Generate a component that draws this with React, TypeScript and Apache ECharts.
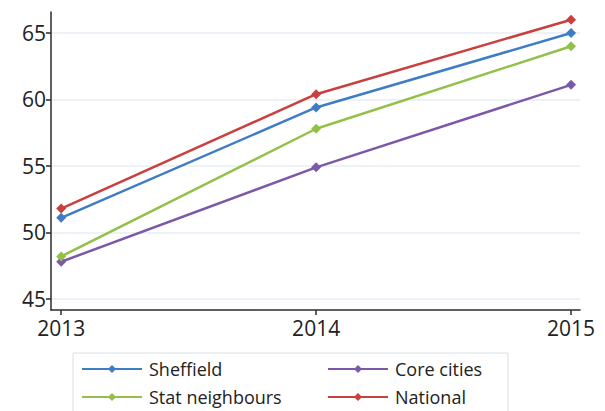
import React, { useEffect, useRef } from "react";
import * as echarts from "echarts";

const years = [2013, 2014, 2015];
const sheffield = [51.1, 59.4, 65.0];
const coreCities = [47.8, 54.9, 61.1];
const statNeighbours = [48.2, 57.8, 64.0];
const national = [51.8, 60.4, 66.0];
const yTicks = [45, 50, 55, 60, 65];

const FONT = "'Open Sans', 'Noto Sans', sans-serif";

export default function App() {
  const ref = useRef<HTMLDivElement>(null);
  useEffect(() => {
    if (!ref.current) return;
    const chart = echarts.init(ref.current, null, { renderer: "svg" });
    const mk = (name: string, vals: number[], color: string) => ({
      name,
      type: "line",
      data: years.map((y, i) => [y, vals[i]]),
      symbol: "diamond",
      symbolSize: 10,
      lineStyle: { color, width: 2.5 },
      itemStyle: { color },
      z: 3,
    });
    const lg = (name: string, left: number, top: number) => ({
      data: [name],
      left,
      top,
      itemWidth: 60,
      itemHeight: 10,
      itemGap: 6,
      padding: 0,
      textStyle: { color: "#222", fontSize: 18, fontFamily: FONT, padding: [0, 0, 0, 2] },
    });
    chart.setOption({
      animation: false,
      grid: { left: 51, right: 25, top: 12, bottom: 101 },
      xAxis: {
        type: "value",
        min: 2012.96,
        max: 2015.035,
        axisLine: { show: true, lineStyle: { color: "#2b2b2b", width: 1.5 } },
        axisTick: { show: true, length: 5, customValues: years, lineStyle: { color: "#2b2b2b", width: 1.5 } },
        axisLabel: {
          customValues: years,
          formatter: (v: number) => String(Math.round(v)),
          color: "#222",
          fontSize: 21,
          fontFamily: FONT,
          margin: 7,
        },
        splitLine: { show: false },
      },
      yAxis: {
        type: "value",
        min: 44.17,
        max: 66.58,
        axisLine: { show: true, lineStyle: { color: "#2b2b2b", width: 1.5 } },
        axisTick: { show: true, length: 5, customValues: yTicks, lineStyle: { color: "#2b2b2b", width: 1.5 } },
        axisLabel: {
          customValues: yTicks,
          color: "#222",
          fontSize: 21,
          fontFamily: FONT,
          margin: 5,
        },
        splitLine: { show: true, lineStyle: { color: "#e6eef4", width: 1.5 } },
      },
      legend: [
        lg("Sheffield", 81, 360),
        lg("Stat neighbours", 81, 388),
        lg("Core cities", 327, 360),
        lg("National", 327, 388),
      ],
      graphic: [
        {
          type: "rect",
          shape: { x: 73, y: 353, width: 435, height: 80 },
          style: { fill: "none", stroke: "#d9dee3", lineWidth: 1 },
          silent: true,
        },
      ],
      series: [
        mk("Sheffield", sheffield, "#3f7cc6"),
        mk("Core cities", coreCities, "#7b59a8"),
        mk("Stat neighbours", statNeighbours, "#93c048"),
        mk("National", national, "#c9403f"),
      ],
    });
    return () => chart.dispose();
  }, []);
  return <div ref={ref} style={{ width: 605, height: 411, position: "absolute", left: 0, top: 0 }} />;
}
